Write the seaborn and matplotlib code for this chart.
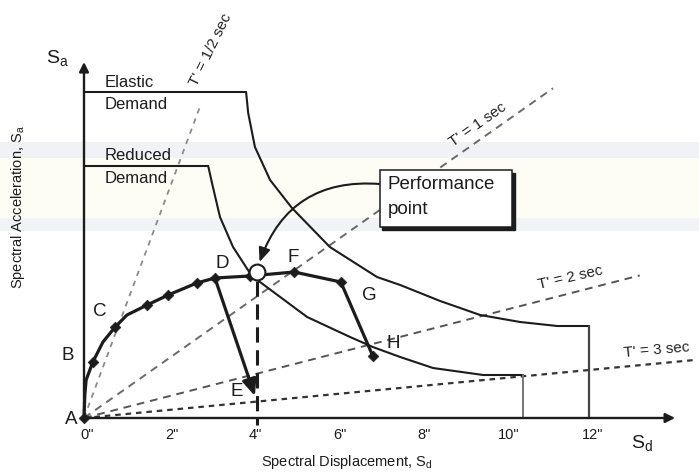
import matplotlib
matplotlib.use("Agg")
import matplotlib.pyplot as plt
import seaborn as sns
from matplotlib.patches import Rectangle, FancyArrowPatch

# ---------------- data (Sd in inches, Sa in arbitrary units) ----------------
elastic_sd = [0.0, 3.85, 3.90, 4.06, 4.42, 4.94, 5.84, 6.96, 7.51, 8.46, 9.41, 10.36, 11.24, 12.0]
elastic_sa = [3.26, 3.26, 3.05, 2.71, 2.38, 2.10, 1.71, 1.41, 1.33, 1.17, 1.03, 0.96, 0.92, 0.92]

reduced_sd = [0.0, 2.95, 3.04, 3.23, 3.54, 3.94, 4.18, 4.66, 5.30, 6.32, 6.86, 7.51, 8.29, 9.48, 10.43]
reduced_sa = [2.52, 2.52, 2.35, 2.01, 1.71, 1.45, 1.36, 1.21, 1.01, 0.81, 0.71, 0.61, 0.50, 0.43, 0.43]

capacity_sd = [0.0, 0.02, 0.05, 0.21, 0.45, 0.74, 1.02, 1.50, 2.00, 2.68, 3.11, 3.94, 4.99, 6.10, 6.86]
capacity_sa = [0.0, 0.23, 0.38, 0.56, 0.76, 0.91, 1.03, 1.13, 1.23, 1.35, 1.40, 1.42, 1.46, 1.36, 0.62]
capacity_marked = [0, 3, 5, 7, 8, 9, 10, 11, 12, 13, 14]

degrade_sd = [3.11, 4.06]          # D -> E
degrade_sa = [1.40, 0.22]

perf_sd = 4.12
perf_sa = 1.46

period_labels = ["T' = 1/2 sec", "T' = 1 sec", "T' = 2 sec", "T' = 3 sec"]
period_slopes = [1.13, 0.296, 0.108, 0.040]
period_ends = [2.76, 11.14, 13.2, 14.56]

tick_values = [0, 2, 4, 6, 8, 10, 12]
tick_labels = ['0"', '2"', '4"', '6"', '8"', '10"', '12"']

point_letters = ["A", "B", "C", "D", "F", "G", "H"]
point_index = [0, 3, 5, 10, 12, 13, 14]

# ---------------- style ----------------
sns.set_style("white")
plt.rcParams["font.family"] = ["Liberation Sans", "DejaVu Sans"]
plt.rcParams["mathtext.fontset"] = "custom"
plt.rcParams["mathtext.rm"] = "Liberation Sans"
plt.rcParams["mathtext.it"] = "Liberation Sans:italic"

fig = plt.figure(figsize=(6.99, 4.74), dpi=100)
ax = fig.add_axes([0, 0, 1, 1])
XS, YS = 42.1, 100.0      # pixels per unit
ax.set_xlim(-84 / XS, (699 - 84) / XS)
ax.set_ylim(-(474 - 418) / YS, 418 / YS)
ax.axis("off")

# faint background bands (scan artefacts)
ax.axhspan(2.60, 2.76, color="#f1f2f5", zorder=0, lw=0)
ax.axhspan(2.00, 2.60, color="#fdfcf5", zorder=0, lw=0)
ax.axhspan(1.87, 2.00, color="#f2f3f6", zorder=0, lw=0)

INK = "#1c1c1c"

# constant-period radial lines
line_styles = [dict(color="#8a8a8a", dashes=(3, 3), lw=1.3),
               dict(color="#6a6a6a", dashes=(4, 3), lw=1.4),
               dict(color="#555555", dashes=(4, 3), lw=1.4),
               dict(color="#333333", dashes=(2.5, 2.2), lw=1.6)]
for slope, end, st in zip(period_slopes, period_ends, line_styles):
    ax.plot([0, end], [0, slope * end], zorder=1, solid_capstyle="butt", **st)

label_pos = [(3.02, 3.68, 64), (9.36, 2.93, 35), (11.54, 1.40, 13), (13.59, 0.68, 5)]
for lab, (x, y, r) in zip(period_labels, label_pos):
    ax.text(x, y, lab, rotation=r, ha="center", va="center", fontsize=11,
            color="#222222", rotation_mode="anchor", zorder=2)

# demand spectra
sns.lineplot(x=elastic_sd, y=elastic_sa, sort=False, estimator=None, ax=ax,
             color=INK, lw=1.5, zorder=2)
ax.plot([elastic_sd[-1]] * 2, [elastic_sa[-1], 0], color="#444444", lw=1.6, zorder=2)
sns.lineplot(x=reduced_sd, y=reduced_sa, sort=False, estimator=None, ax=ax,
             color=INK, lw=1.5, zorder=2)
ax.plot([reduced_sd[-1]] * 2, [reduced_sa[-1], 0], color="#777777", lw=1.4, zorder=2)

# capacity curve
sns.lineplot(x=capacity_sd, y=capacity_sa, sort=False, estimator=None, ax=ax,
             color=INK, lw=2.3, zorder=3)
sns.scatterplot(x=[capacity_sd[i] for i in capacity_marked],
                y=[capacity_sa[i] for i in capacity_marked],
                marker="D", s=30, color=INK, edgecolor=INK, ax=ax, zorder=4)

# degradation D -> E
ax.annotate("", xy=(degrade_sd[1], degrade_sa[1]), xytext=(degrade_sd[0], degrade_sa[0]),
            arrowprops=dict(arrowstyle="-|>,head_length=0.7,head_width=0.3", lw=2.3,
                            color=INK, shrinkA=0, shrinkB=0, mutation_scale=14), zorder=4)

# performance point vertical dashed line
ax.plot([perf_sd, perf_sd], [perf_sa - 0.09, -0.07], color=INK, lw=2.2,
        dashes=(5, 2.5), zorder=3)
ax.scatter([perf_sd], [perf_sa], s=130, facecolor="white", edgecolor=INK, lw=1.5, zorder=6)

# axes with arrows
ax.annotate("", xy=(0, 3.56), xytext=(0, 0),
            arrowprops=dict(arrowstyle="-|>", lw=1.7, color=INK, shrinkA=0, shrinkB=0,
                            mutation_scale=14))
ax.annotate("", xy=(14.04, 0), xytext=(0, 0),
            arrowprops=dict(arrowstyle="-|>", lw=1.7, color=INK, shrinkA=0, shrinkB=0,
                            mutation_scale=14))

for v, t in zip(tick_values, tick_labels):
    ax.text(v + 0.08, -0.17, t, ha="center", va="center", fontsize=10.5, color=INK)

# labels
ax.text(-0.62, 3.60, r"$\mathrm{S}_\mathrm{a}$", ha="center", va="center", fontsize=14, color=INK)
ax.text(13.25, -0.25, r"$\mathrm{S}_\mathrm{d}$", ha="center", va="center", fontsize=14, color=INK)
ax.text(6.25, -0.44, r"Spectral Displacement, $\mathrm{S}_\mathrm{d}$", ha="center", va="center",
        fontsize=10.5, color=INK)
ax.text(-1.57, 2.11, r"Spectral Acceleration, $\mathrm{S}_\mathrm{a}$", ha="center", va="center",
        rotation=90, fontsize=10.5, color=INK)

ax.text(0.50, 3.36, "Elastic", ha="left", va="center", fontsize=12, color=INK, zorder=3)
ax.text(0.50, 3.14, "Demand", ha="left", va="center", fontsize=12, color=INK, zorder=3)
ax.text(0.50, 2.63, "Reduced", ha="left", va="center", fontsize=12, color=INK, zorder=3)
ax.text(0.50, 2.40, "Demand", ha="left", va="center", fontsize=12, color=INK, zorder=3)

# point letters
letter_offsets = [(-13, -2), (-25, 7), (-15, 15), (7, 15), (-1, 15), (29, -13), (20, 13)]
for lt, idx, off in zip(point_letters, point_index, letter_offsets):
    ax.annotate(lt, xy=(capacity_sd[idx], capacity_sa[idx]), xytext=off,
                textcoords="offset pixels", ha="center", va="center", fontsize=13.5, color=INK)
ax.annotate("E", xy=(degrade_sd[1], degrade_sa[1]), xytext=(-18, 5),
            textcoords="offset pixels", ha="center", va="center", fontsize=13.5, color=INK)

# performance point callout box
ax.add_patch(Rectangle((7.03 + 0.06, 1.91 - 0.025), 3.14, 0.57, facecolor=INK,
                       edgecolor=INK, lw=1.0, zorder=7))
ax.add_patch(Rectangle((7.03, 1.91), 3.14, 0.57, facecolor="white",
                       edgecolor=INK, lw=1.1, zorder=8))
ax.text(7.22, 2.34, "Performance", ha="left", va="center", fontsize=13.5, color=INK, zorder=9)
ax.text(7.22, 2.08, "point", ha="left", va="center", fontsize=13.5, color=INK, zorder=9)
ax.add_patch(FancyArrowPatch((7.03, 2.34), (4.17, 1.56), connectionstyle="arc3,rad=0.38",
                             arrowstyle="-|>,head_length=0.6,head_width=0.25",
                             mutation_scale=14, lw=1.5, color=INK, shrinkA=0, shrinkB=0,
                             zorder=5))

fig.savefig("out.png", dpi=100)
